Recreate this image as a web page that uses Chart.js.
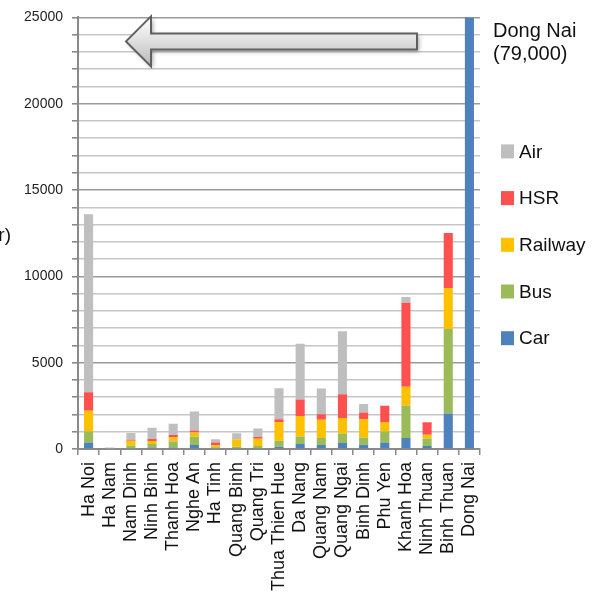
<!DOCTYPE html>
<html>
<head>
<meta charset="utf-8">
<script src="https://cdn.jsdelivr.net/npm/chart.js@4/dist/chart.umd.min.js"></script>
<style>
  html, body { margin: 0; padding: 0; background: #fff; }
  #wrap { width: 606px; height: 594px; }
</style>
</head>
<body>
<div id="wrap"><canvas id="modal-chart" width="606" height="594"></canvas></div>
<script>
const provinces = ['Ha Noi', 'Ha Nam', 'Nam Dinh', 'Ninh Binh', 'Thanh Hoa', 'Nghe An', 'Ha Tinh',
  'Quang Binh', 'Quang Tri', 'Thua Thien Hue', 'Da Nang', 'Quang Nam', 'Quang Ngai', 'Binh Dinh',
  'Phu Yen', 'Khanh Hoa', 'Ninh Thuan', 'Binh Thuan', 'Dong Nai'];

const car     = [380, 0, 20, 90, 90, 230, 30, 20, 20, 130, 290, 230, 350, 250, 380, 640, 170, 2060, 79000];
const bus     = [630, 0, 180, 200, 350, 500, 70, 110, 150, 350, 440, 400, 550, 420, 640, 1880, 440, 4890, 0];
const railway = [1210, 0, 280, 170, 230, 230, 120, 430, 420, 1080, 1180, 1070, 900, 1060, 540, 1080, 210, 2370, 0];
const hsr     = [1060, 0, 60, 115, 140, 115, 150, 0, 100, 170, 960, 310, 1370, 380, 940, 4870, 730, 3190, 0];
const air     = [10320, 80, 380, 650, 650, 1100, 200, 350, 500, 1790, 3220, 1500, 3650, 490, 0, 330, 0, 0, 0];

const yMax = 25000;
const yStep = 1000;
const yLabelEvery = 5000;

const FONT = '"Liberation Sans", Arial, sans-serif';

// legend on the right, top item = last dataset
const sideLegend = {
  id: 'sideLegend',
  afterDraw(chart) {
    const ctx = chart.ctx;
    const area = chart.chartArea;
    const sets = chart.data.datasets.slice().reverse();
    ctx.save();
    ctx.font = '19px ' + FONT;
    ctx.textBaseline = 'middle';
    ctx.textAlign = 'left';
    sets.forEach((ds, i) => {
      const y = area.top + 134 + i * 46.7;
      ctx.fillStyle = ds.backgroundColor;
      ctx.fillRect(area.right + 21, y - 7, 13, 14);
      ctx.fillStyle = '#111';
      ctx.fillText(ds.label, area.right + 39, y + 1);
    });

    // value of the clipped bar
    const last = provinces.length - 1;
    ctx.font = '20px ' + FONT;
    ctx.textBaseline = 'alphabetic';
    ctx.fillText(provinces[last], area.right + 13, area.top + 20);
    ctx.fillText('(' + car[last].toLocaleString('en-US') + ')', area.right + 13, area.top + 43);

    // unit label, runs off the left edge
    ctx.textAlign = 'right';
    ctx.font = '19px ' + FONT;
    ctx.fillText('(passengers/year)', 11, 241);
    ctx.restore();
  }
};

// big outlined arrow pointing left across the top
const arrowPlugin = {
  id: 'arrowPlugin',
  afterDatasetsDraw(chart) {
    const ctx = chart.ctx;
    const a = chart.chartArea;
    const tip = a.left + 48, neck = a.left + 73, tail = a.left + 339;
    const cy = a.top + 24, shaft = 8, head = 25;
    const path = () => {
      ctx.beginPath();
      ctx.moveTo(tip, cy);
      ctx.lineTo(neck, cy - head);
      ctx.lineTo(neck, cy - shaft);
      ctx.lineTo(tail, cy - shaft);
      ctx.lineTo(tail, cy + shaft);
      ctx.lineTo(neck, cy + shaft);
      ctx.lineTo(neck, cy + head);
      ctx.closePath();
    };
    ctx.save();
    ctx.shadowColor = 'rgba(0,0,0,0.35)';
    ctx.shadowBlur = 4;
    ctx.shadowOffsetX = 2;
    ctx.shadowOffsetY = 2;
    const g = ctx.createLinearGradient(0, cy - head, 0, cy + head);
    g.addColorStop(0, '#ffffff');
    g.addColorStop(0.45, '#e2e2e2');
    g.addColorStop(1, '#b8b8b8');
    path();
    ctx.fillStyle = g;
    ctx.fill();
    ctx.shadowColor = 'transparent';
    ctx.lineWidth = 2;
    ctx.strokeStyle = '#606060';
    ctx.lineJoin = 'miter';
    path();
    ctx.stroke();
    ctx.restore();
  }
};

const whiteBg = {
  id: 'whiteBg',
  beforeDraw(chart) {
    const ctx = chart.ctx;
    ctx.save();
    ctx.fillStyle = '#fff';
    ctx.fillRect(0, 0, chart.width, chart.height);
    ctx.restore();
  }
};

function series(label, data, color) {
  return {
    label: label,
    data: data,
    backgroundColor: color,
    borderWidth: 0,
    barPercentage: 0.43,
    categoryPercentage: 1.0
  };
}

new Chart(document.getElementById('modal-chart'), {
  type: 'bar',
  data: {
    labels: provinces,
    datasets: [
      series('Car', car, '#4f81bd'),
      series('Bus', bus, '#9bbb59'),
      series('Railway', railway, '#ffc000'),
      series('HSR', hsr, '#ff5050'),
      series('Air', air, '#bfbfbf')
    ]
  },
  options: {
    responsive: false,
    animation: false,
    layout: { padding: { top: 16, right: 126, left: 0, bottom: 0 } },
    plugins: {
      legend: { display: false },
      tooltip: { enabled: false }
    },
    scales: {
      x: {
        stacked: true,
        afterFit(scale) { scale.height = 145; },
        grid: {
          offset: true,
          drawOnChartArea: false,
          drawTicks: true,
          tickLength: 6,
          tickColor: '#8a8a8a',
          lineWidth: 1.5
        },
        border: { color: '#8a8a8a', width: 2 },
        ticks: {
          autoSkip: false,
          minRotation: 90,
          maxRotation: 90,
          padding: 7,
          color: '#111',
          font: { family: FONT, size: 18 }
        }
      },
      y: {
        stacked: true,
        min: 0,
        max: yMax,
        afterFit(scale) { scale.width = 78; },
        grid: {
          color: ctx => (ctx.tick && ctx.tick.value % yLabelEvery === 0) ? '#9a9a9a' : '#c6c6c6',
          lineWidth: 1.6,
          tickLength: 6,
          tickColor: '#8a8a8a'
        },
        border: { color: '#8a8a8a', width: 2 },
        ticks: {
          stepSize: yStep,
          autoSkip: false,
          padding: 9,
          color: '#222',
          font: { family: FONT, size: 14 },
          callback: v => (v % yLabelEvery === 0 ? String(v) : '')
        }
      }
    }
  },
  plugins: [whiteBg, arrowPlugin, sideLegend]
});
</script>
</body>
</html>
